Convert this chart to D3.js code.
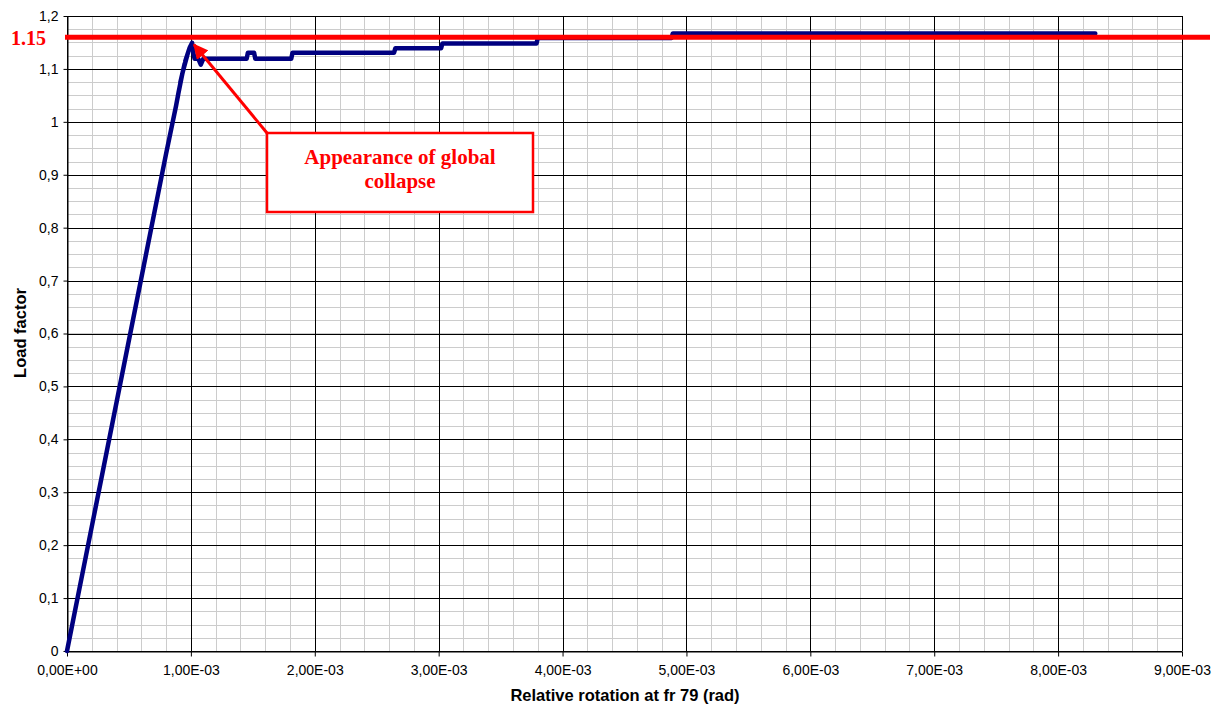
<!DOCTYPE html>
<html>
<head>
<meta charset="utf-8">
<script src="https://cdn.jsdelivr.net/npm/d3@7"></script>
<style>
  html, body { margin: 0; padding: 0; background: #fff; }
  svg { display: block; }
</style>
</head>
<body>
<svg id="chart" width="1219" height="706"></svg>
<script>
// ---- Data ----
const rotation = [
  0, 0.20e-3, 0.40e-3, 0.60e-3, 0.80e-3, 0.88e-3, 0.90e-3,
  0.93e-3, 0.915e-3, 0.95e-3, 0.935e-3, 0.97e-3, 0.955e-3, 0.99e-3, 1.01e-3,
  1.02e-3, 1.03e-3, 1.06e-3, 1.08e-3, 1.10e-3,
  1.45e-3, 1.46e-3, 1.51e-3, 1.52e-3,
  1.81e-3, 1.82e-3, 2.64e-3, 2.65e-3, 3.02e-3, 3.03e-3, 3.79e-3,
  3.80e-3, 4.88e-3, 4.89e-3, 8.30e-3
];
const loadFactor = [
  0, 0.235, 0.47, 0.705, 0.94, 1.03, 1.055,
  1.09, 1.075, 1.11, 1.095, 1.125, 1.115, 1.14, 1.1495,
  1.13, 1.119, 1.119, 1.108, 1.119,
  1.119, 1.1306, 1.1306, 1.119,
  1.119, 1.1306, 1.1306, 1.139, 1.139, 1.148, 1.148,
  1.1585, 1.1585, 1.167, 1.167
];
const xTicks = [0, 1e-3, 2e-3, 3e-3, 4e-3, 5e-3, 6e-3, 7e-3, 8e-3, 9e-3];
const yTicks = [0, 0.1, 0.2, 0.3, 0.4, 0.5, 0.6, 0.7, 0.8, 0.9, 1.0, 1.1, 1.2];
const refLineValue = 1.16;
const refLineLabel = "1.15";
const collapsePoint = [1.01e-3, 1.1495];
const annotationLines = ["Appearance of global", "collapse"];
const xTitle = "Relative rotation at fr 79 (rad)";
const yTitle = "Load factor";

// ---- Layout ----
const pL = 67, pR = 1182, pT = 16, pB = 651;
const svg = d3.select("#chart");
const x = d3.scaleLinear().domain([0, 9e-3]).range([pL, pR]);
const y = d3.scaleLinear().domain([0, 1.2]).range([pB, pT]);
const sans = "'Liberation Sans', Arial, sans-serif";
const serif = "'Liberation Serif', 'Times New Roman', serif";

// minor grid
const g = svg.append("g");
const xMinor = d3.range(0, 9e-3 + 1e-9, 0.2e-3);
const yMinor = d3.range(0, 1.2 + 1e-9, 0.025);
g.selectAll("line.vminor").data(xMinor).enter().append("line")
  .attr("x1", d => Math.round(x(d)) + 0.5).attr("x2", d => Math.round(x(d)) + 0.5)
  .attr("y1", pT).attr("y2", pB)
  .attr("stroke", "#cccccc").attr("stroke-width", 1);
g.selectAll("line.hminor").data(yMinor).enter().append("line")
  .attr("y1", d => Math.round(y(d)) + 0.5).attr("y2", d => Math.round(y(d)) + 0.5)
  .attr("x1", pL).attr("x2", pR)
  .attr("stroke", "#cccccc").attr("stroke-width", 1);
// major grid
g.selectAll("line.vmajor").data(xTicks).enter().append("line")
  .attr("x1", d => Math.round(x(d)) + 0.5).attr("x2", d => Math.round(x(d)) + 0.5)
  .attr("y1", pT).attr("y2", pB)
  .attr("stroke", "#000").attr("stroke-width", 1);
g.selectAll("line.hmajor").data(yTicks).enter().append("line")
  .attr("y1", d => Math.round(y(d)) + 0.5).attr("y2", d => Math.round(y(d)) + 0.5)
  .attr("x1", pL).attr("x2", pR)
  .attr("stroke", "#000").attr("stroke-width", 1);

// axes
const fmtX = d => d.toExponential(2).replace(".", ",").replace(/e([+-])(\d+)$/, (m, s, n) => "E" + s + n.padStart(2, "0"));
const fmtY = d => String(+d.toFixed(1)).replace(".", ",");
const xAxis = svg.append("g").attr("transform", `translate(0,${pB + 0.5})`)
  .call(d3.axisBottom(x).tickValues(xTicks).tickFormat(fmtX).tickSize(5).tickPadding(9).tickSizeOuter(0));
const yAxis = svg.append("g").attr("transform", `translate(${pL + 0.5},0)`)
  .call(d3.axisLeft(y).tickValues(yTicks).tickFormat(fmtY).tickSize(4).tickPadding(5).tickSizeOuter(0));
[xAxis, yAxis].forEach(a => {
  a.selectAll("text").attr("font-family", sans).attr("font-size", 14).attr("fill", "#000");
  a.selectAll("line, path").attr("stroke", "#000");
});

// data series
const pts = rotation.map((r, i) => [r, loadFactor[i]]);
svg.append("path").datum(pts)
  .attr("d", d3.line().x(d => x(d[0])).y(d => y(d[1])))
  .attr("fill", "none").attr("stroke", "#000080").attr("stroke-width", 4.5)
  .attr("stroke-linejoin", "round").attr("stroke-linecap", "round");

// reference line
svg.append("line")
  .attr("x1", 65).attr("x2", 1210)
  .attr("y1", y(refLineValue)).attr("y2", y(refLineValue))
  .attr("stroke", "#ff0000").attr("stroke-width", 5);
svg.append("text").attr("x", 11).attr("y", 45)
  .attr("font-family", serif).attr("font-weight", "bold").attr("font-size", 20)
  .attr("fill", "#ff0000").text(refLineLabel);

// annotation arrow
const defs = svg.append("defs");
defs.append("marker").attr("id", "ah").attr("viewBox", "0 0 10 10")
  .attr("refX", 9).attr("refY", 5).attr("markerWidth", 5).attr("markerHeight", 5)
  .attr("markerUnits", "strokeWidth").attr("orient", "auto")
  .append("path").attr("d", "M0,0 L10,5 L0,10 z").attr("fill", "#ff0000");
const bx = 267, by = 133, bw = 266, bh = 79;
svg.append("line")
  .attr("x1", bx).attr("y1", by)
  .attr("x2", x(collapsePoint[0]) + 2).attr("y2", y(collapsePoint[1]) + 2)
  .attr("stroke", "#ff0000").attr("stroke-width", 3).attr("marker-end", "url(#ah)");
svg.append("rect").attr("x", bx).attr("y", by).attr("width", bw).attr("height", bh)
  .attr("fill", "#fff").attr("stroke", "#ff0000").attr("stroke-width", 2.5);
svg.append("text").attr("x", bx + bw / 2).attr("y", 164)
  .attr("text-anchor", "middle").attr("font-family", serif).attr("font-weight", "bold")
  .attr("font-size", 21).attr("fill", "#ff0000")
  .selectAll("tspan").data(annotationLines).enter().append("tspan")
  .attr("x", bx + bw / 2).attr("dy", (d, i) => i === 0 ? 0 : 24).text(d => d);

// axis titles
svg.append("text").attr("x", 625).attr("y", 701).attr("text-anchor", "middle")
  .attr("font-family", sans).attr("font-weight", "bold").attr("font-size", 16.5)
  .text(xTitle);
svg.append("text").attr("transform", "translate(26,333) rotate(-90)").attr("text-anchor", "middle")
  .attr("font-family", sans).attr("font-weight", "bold").attr("font-size", 16.5)
  .text(yTitle);
</script>
</body>
</html>
